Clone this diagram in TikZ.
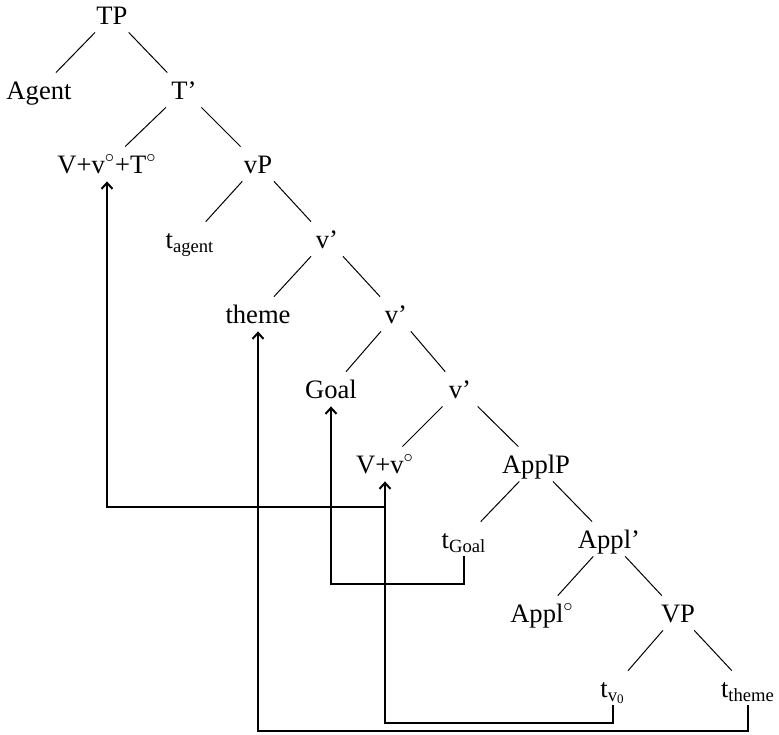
\documentclass[tikz,border=0pt]{standalone}
\usepackage{fontspec}
\setmainfont{Liberation Serif}
\usetikzlibrary{arrows.meta}
\newcommand{\dg}{\ensuremath{^\circ}}
\begin{document}
\begin{tikzpicture}[x=0.5pt,y=-0.5pt,
  lbl/.style={font=\fontsize{13.3}{16}\selectfont, text height=10pt, text depth=1pt,
    inner ysep=3pt, inner xsep=2pt, minimum width=20pt, anchor=center},
  br/.style={line width=0.5pt},
  mv/.style={line width=1pt, -{Straight Barb[length=3pt,width=5.5pt]}}]
\useasboundingbox (0,0) rectangle (779,734);
\node[lbl] (tp) at (112,15) {TP};
\node[lbl] (agent) at (39,90) {Agent};
\node[lbl] (tbar) at (184,90) {T’};
\node[lbl] (vvt) at (107,164) {V+v\dg+T\dg};
\node[lbl] (vp) at (258,164) {vP};
\node[lbl] (tag) at (190,239) {t\textsubscript{agent}};
\node[lbl] (vba) at (327,239) {v’};
\node[lbl] (theme) at (258,314) {theme};
\node[lbl] (vbb) at (396,314) {v’};
\node[lbl] (goal) at (331,389) {Goal};
\node[lbl] (vbc) at (460,389) {v’};
\node[lbl] (vv) at (385,464) {V+v\dg};
\node[lbl] (applp) at (536,464) {ApplP};
\node[lbl] (tgoal) at (464,539) {t\textsubscript{Goal}};
\node[lbl] (applb) at (609,539) {Appl’};
\node[lbl] (applo) at (542,613) {Appl\dg};
\node[lbl] (vpp) at (678,613) {VP};
\node[lbl] (tvo) at (613,688) {t\textsubscript{v\textsubscript{0}}};
\node[lbl] (ttheme) at (748,688) {t\textsubscript{theme}};
\draw[br] (tp) -- (agent);
\draw[br] (tp) -- (tbar);
\draw[br] (tbar) -- (vvt);
\draw[br] (tbar) -- (vp);
\draw[br] (vp) -- (tag);
\draw[br] (vp) -- (vba);
\draw[br] (vba) -- (theme);
\draw[br] (vba) -- (vbb);
\draw[br] (vbb) -- (goal);
\draw[br] (vbb) -- (vbc);
\draw[br] (vbc) -- (vv);
\draw[br] (vbc) -- (applp);
\draw[br] (applp) -- (tgoal);
\draw[br] (applp) -- (applb);
\draw[br] (applb) -- (applo);
\draw[br] (applb) -- (vpp);
\draw[br] (vpp) -- (tvo);
\draw[br] (vpp) -- (ttheme);
\coordinate (ya) at (0,507);
\coordinate (yb) at (0,584);
\coordinate (yc) at (0,723);
\coordinate (yd) at (0,731);
\draw[mv] (tvo.south) -- (tvo.south |- yc) -| (vv.south);
\draw[mv] (ttheme.south) -- (ttheme.south |- yd) -| (theme.south);
\draw[mv] (tgoal.south) -- (tgoal.south |- yb) -| (goal.south);
\draw[mv] (vv.south |- ya) -| (vvt.south);
\end{tikzpicture}
\end{document}
